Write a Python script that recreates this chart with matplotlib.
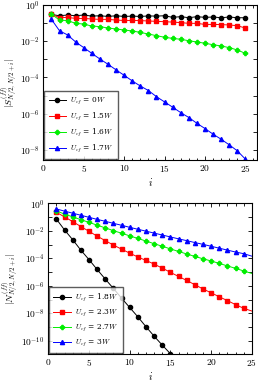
import numpy as np
import matplotlib
matplotlib.use("Agg")
import matplotlib.pyplot as plt

plt.rcParams['mathtext.fontset'] = 'cm'
plt.rcParams['font.family'] = 'serif'
plt.rcParams['font.serif'] = ['DejaVu Serif']

# log10 of |S| (top panel), i = 1..25
i_top = np.arange(1, 26)
s_0w = [-0.52, -0.59, -0.55, -0.59, -0.55, -0.61, -0.59, -0.63, -0.59, -0.63, -0.61, -0.63, -0.60,
        -0.61, -0.59, -0.68, -0.64, -0.70, -0.64, -0.68, -0.66, -0.70, -0.66, -0.70, -0.70]
s_15w = [-0.50, -0.70, -0.68, -0.74, -0.74, -0.77, -0.79, -0.79, -0.83, -0.85, -0.85, -0.86, -0.88,
         -0.90, -0.92, -0.94, -0.97, -1.01, -1.01, -1.07, -1.07, -1.08, -1.10, -1.14, -1.27]
s_16w = [-0.50, -0.83, -0.86, -1.01, -1.05, -1.16, -1.19, -1.27, -1.32, -1.38, -1.43, -1.51, -1.60,
         -1.69, -1.78, -1.84, -1.89, -1.97, -2.04, -2.11, -2.19, -2.26, -2.35, -2.48, -2.67]
s_17w = [-0.79, -1.42, -1.65, -2.04, -2.35, -2.67, -2.98, -3.27, -3.58, -3.88, -4.19, -4.47, -4.72,
         -5.06, -5.35, -5.64, -5.94, -6.21, -6.53, -6.82, -7.13, -7.41, -7.72, -8.05, -8.51]
top_labels = ['$U_{cf}$ = 0$W$', '$U_{cf}$ = 1.5$W$', '$U_{cf}$ = 1.6$W$', '$U_{cf}$ = 1.7$W$']

# log10 of |N| (bottom panel)
i_black = np.arange(1, 16)
n_18w = [-1.14, -1.93, -2.64, -3.40, -4.09, -4.81, -5.51, -6.19, -6.90, -7.58, -8.26, -8.98,
         -9.67, -10.32, -10.95]
i_bot = np.arange(1, 26)
n_23w = [-0.65, -0.98, -1.32, -1.68, -2.03, -2.38, -2.71, -3.03, -3.33, -3.62, -3.90, -4.15, -4.42,
         -4.71, -5.02, -5.32, -5.61, -5.92, -6.23, -6.51, -6.80, -7.08, -7.37, -7.64, -7.84]
n_27w = [-0.55, -0.77, -0.98, -1.18, -1.38, -1.58, -1.78, -1.98, -2.17, -2.36, -2.55, -2.74, -2.93,
         -3.12, -3.31, -3.50, -3.68, -3.86, -4.03, -4.19, -4.37, -4.55, -4.73, -4.92, -5.10]
n_3w = [-0.40, -0.56, -0.71, -0.86, -1.01, -1.16, -1.30, -1.45, -1.59, -1.74, -1.88, -2.02, -2.16,
        -2.30, -2.44, -2.58, -2.71, -2.85, -2.98, -3.12, -3.26, -3.40, -3.54, -3.66, -3.84]
bot_labels = ['$U_{cf}$ = 1.8$W$', '$U_{cf}$ = 2.3$W$', '$U_{cf}$ = 2.7$W$', '$U_{cf}$ = 3$W$']

colors = ['black', '#ff0000', '#00ee00', '#0000ff']
markers = ['o', 's', 'P', '^']
msizes = [3.0, 3.3, 3.0, 3.0]

fig = plt.figure(figsize=(2.58, 3.89), dpi=100)
ax1 = fig.add_axes([0.168, 0.589, 0.827, 0.398])
ax2 = fig.add_axes([0.187, 0.090, 0.789, 0.387])


def style(ax, xmax, ylo, yhi_dec):
    ax.set_yscale('log')
    ax.set_xlim(0, xmax)
    ax.set_ylim(10 ** ylo, 1)
    ax.set_xticks([0, 5, 10, 15, 20, 25])
    ax.set_xticklabels(['$%d$' % v for v in [0, 5, 10, 15, 20, 25]])
    ax.set_xticks(np.arange(0, int(xmax) + 1), minor=True)
    decs = np.arange(0, yhi_dec - 1, -1)
    ax.set_yticks(10.0 ** decs)
    ax.set_yticklabels(['$10^{%d}$' % d if d % 2 == 0 else '' for d in decs])
    ax.yaxis.set_minor_locator(matplotlib.ticker.NullLocator())
    ax.tick_params(which='both', direction='in', top=True, right=True, labelsize=6.8, width=0.6)
    ax.tick_params(which='major', length=3, pad=2.5)
    ax.tick_params(which='minor', length=1.8)
    for sp in ax.spines.values():
        sp.set_linewidth(0.8)
    ax.set_xlabel('$i$', fontsize=7.5, labelpad=1)


def add_legend(ax):
    leg = ax.legend(loc='lower left', fontsize=5.4, frameon=True, fancybox=False,
                    borderaxespad=0.15, handlelength=2.3, handletextpad=0.6,
                    labelspacing=0.45, borderpad=0.55)
    leg.get_frame().set_edgecolor('#333333')
    leg.get_frame().set_linewidth(1.0)


top_series = [s_0w, s_15w, s_16w, s_17w]
for k in range(4):
    ax1.plot(i_top, 10.0 ** np.array(top_series[k]), color=colors[k], marker=markers[k],
             ms=msizes[k], lw=0.7, label=top_labels[k])
style(ax1, 26.4, -8.55, -8)
ax1.set_ylabel('$|S^{(ff)}_{N/2,N/2+i}|$', fontsize=7, labelpad=0)
add_legend(ax1)

ax2.plot(i_black, 10.0 ** np.array(n_18w), color=colors[0], marker=markers[0], ms=msizes[0],
         lw=0.7, label=bot_labels[0])
bot_series = [n_23w, n_27w, n_3w]
for k in range(3):
    ax2.plot(i_bot, 10.0 ** np.array(bot_series[k]), color=colors[k + 1], marker=markers[k + 1],
             ms=msizes[k + 1], lw=0.7, label=bot_labels[k + 1], markevery=slice(0, 24))
style(ax2, 25, -10.97, -10)
ax2.set_ylabel('$|N^{(ff)}_{N/2,N/2+i}|$', fontsize=7, labelpad=0)
add_legend(ax2)

fig.savefig('out.png', dpi=100)
